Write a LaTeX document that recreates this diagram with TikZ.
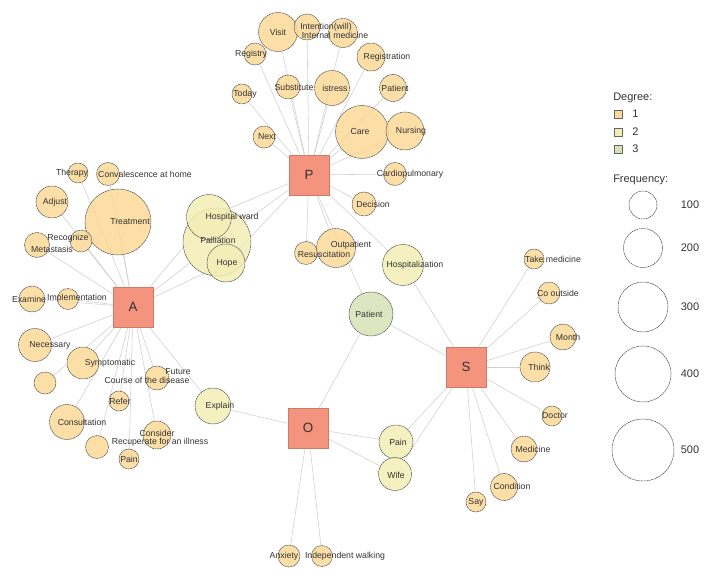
\documentclass[tikz,border=0pt]{standalone}
\usepackage{fontspec}
\setmainfont{Liberation Sans}
\usetikzlibrary{backgrounds}

\definecolor{degone}{HTML}{FBD898}
\definecolor{degtwo}{HTML}{F3EDB5}
\definecolor{degthree}{HTML}{D6E2B6}
\definecolor{boxred}{HTML}{F4937E}
\definecolor{boxline}{HTML}{C97A68}
\definecolor{edgegray}{HTML}{CFCFCF}
\definecolor{txtgray}{HTML}{333333}

\tikzset{
  bub/.style={circle,draw=black!70,line width=0.35pt,dash pattern=on 1.4pt off 0.4pt,
    inner sep=0pt,fill opacity=0.85,draw opacity=1},
  bone/.style={bub,fill=degone,minimum size=#1*0.025cm},
  btwo/.style={bub,fill=degtwo,minimum size=#1*0.025cm},
  bthree/.style={bub,fill=degthree,minimum size=#1*0.025cm},
  lab/.style={font=\fontsize{6.2}{7}\selectfont,text=txtgray,inner sep=0pt},
  hub/.style={rectangle,draw=boxline,line width=0.5pt,fill=boxred,minimum size=1cm,
    font=\fontsize{9.5}{10}\selectfont,text=txtgray},
  edge/.style={draw=edgegray,line width=0.4pt},
  legtxt/.style={font=\fontsize{7.8}{9}\selectfont,text=txtgray,inner sep=0pt},
  legbox/.style={rectangle,draw=black!60,line width=0.3pt,minimum size=8*0.025cm,inner sep=0pt},
  legring/.style={circle,draw=black!70,line width=0.35pt,dash pattern=on 1.4pt off 0.4pt,
    inner sep=0pt,minimum size=#1*0.025cm}
}

\begin{document}
\begin{tikzpicture}[x=0.025cm,y=-0.025cm]
	\useasboundingbox (0,0) rectangle (709,582);
	% hubs
	\node[hub] (P) at (309,175) {P};
	\node[hub] (A) at (133,307) {A};
	\node[hub] (O) at (308,428) {O};
	\node[hub] (S) at (466,367) {S};
	% P side
	\node[bone=39] (visit) at (278,32) {};
	\node[bone=26] (intent) at (307,27) {};
	\node[bone=29] (intmed) at (343,33) {};
	\node[bone=22] (registry) at (255,54) {};
	\node[bone=28] (registr) at (371,57) {};
	\node[bone=24] (subst) at (288,87) {};
	\node[bone=35] (istress) at (332,88) {};
	\node[bone=27] (patP) at (393,88) {};
	\node[bone=20] (today) at (242,94) {};
	\node[bone=22] (next) at (264,137) {};
	\node[bone=53] (care) at (362,132) {};
	\node[bone=38] (nursing) at (405,131) {};
	\node[bone=23] (cardio) at (395,174) {};
	\node[bone=24] (decision) at (364,204) {};
	\node[bone=23] (resus) at (306,253) {};
	\node[bone=39] (outpat) at (336,248) {};
	\node[btwo=41] (hosp) at (403,265) {};
	\node[bthree=44] (patG) at (371,314) {};
	% shared by A and P
	\node[btwo=68] (pall) at (217,242) {};
	\node[btwo=45] (ward) at (209,217) {};
	\node[btwo=38] (hope) at (226,263) {};
	% A side
	\node[bone=20] (therapy) at (78,173) {};
	\node[bone=23] (conval) at (108,174) {};
	\node[bone=32] (adjust) at (52,202) {};
	\node[bone=66] (treat) at (118,222) {};
	\node[bone=25] (metas) at (37,245) {};
	\node[bone=22] (recog) at (81,241) {};
	\node[bone=26] (examine) at (32,299) {};
	\node[bone=21] (implem) at (68,299) {};
	\node[bone=33] (necess) at (35,345) {};
	\node[bone=32] (sympt) at (83,363) {};
	\node[bone=22] (anonA) at (45,383) {};
	\node[bone=24] (future) at (157,378) {};
	\node[bone=20] (refer) at (119,401) {};
	\node[btwo=36] (explain) at (213,406) {};
	\node[bone=35] (consult) at (67,422) {};
	\node[bone=28] (consid) at (157,435) {};
	\node[bone=23] (anonB) at (97,447) {};
	\node[bone=20] (painA) at (129,459) {};
	% O side
	\node[btwo=34] (painO) at (396,442) {};
	\node[btwo=33] (wife) at (395,474) {};
	\node[bone=22] (anxiety) at (289,556) {};
	\node[bone=21] (indep) at (322,556) {};
	% S side
	\node[bone=20] (takemed) at (534,259) {};
	\node[bone=22] (coout) at (549,293) {};
	\node[bone=26] (month) at (563,337) {};
	\node[bone=30] (think) at (535,367) {};
	\node[bone=20] (doctor) at (552,416) {};
	\node[bone=26] (medic) at (524,449) {};
	\node[bone=27] (condit) at (504,487) {};
	\node[bone=20] (say) at (476,502) {};
	% words on top of all bubbles
	\foreach \n/\dx/\dy/\t in {visit/0/0/Visit, intent/19/0/Intention(will),
	  intmed/-8/2/Internal medicine, registry/-4/0/Registry, registr/16/0/Registration,
	  subst/6/0/Substitute, istress/3/0/istress, patP/2/0/Patient, today/3/0/Today,
	  next/3/0/Next, care/-2/0/Care, nursing/6/0/Nursing, cardio/15/0/Cardiopulmonary,
	  decision/9/0/Decision, resus/18/1/Resuscitation, outpat/15/-3/Outpatient,
	  hosp/12/0/Hospitalization, patG/-2/0/Patient, pall/1/-2/Palliation,
	  ward/23/0/Hospital ward, hope/1/0/Hope, therapy/-6/0/Therapy,
	  conval/37/0/Convalescence at home, adjust/3/0/Adjust, treat/12/0/Treatment,
	  metas/15/4/Metastasis, recog/-13/-3/Recognize, examine/-3/0/Examine,
	  implem/9/-1/Implementation, necess/15/0/Necessary, sympt/27/0/Symptomatic,
	  future/21/-6/Future, refer/1/0/Refer, explain/7/0/Explain,
	  consult/15/0/Consultation, consid/0/-2/Consider, painA/0/0/Pain,
	  painO/2/0/Pain, wife/1/1/Wife, anxiety/-5/0/Anxiety,
	  indep/23/0/Independent walking, takemed/19/0/Take medicine, coout/9/0/Co outside,
	  month/5/0/Month, think/4/0/Think, doctor/3/0/Doctor, medic/9/0/Medicine,
	  condit/8/-1/Condition, say/0/0/Say}
	  \node[lab] (\n-t) at ([shift={(\dx,\dy)}]\n) {\t};
	\node[lab] (course-t) at ([shift={(-10,2)}]future) {Course of the disease};
	\node[lab] (recup-t) at ([shift={(3,7)}]consid) {Recuperate for an illness};
	% connectors
	\begin{pgfonlayer}{background}
	\foreach \n in {visit,intent,intmed,registry,registr,subst,istress,patP,today,next,
	  care,nursing,cardio,decision,resus,outpat,hosp,patG,ward,pall,hope}
	  \draw[edge] (P) -- (\n);
	\foreach \n in {therapy,conval,adjust,treat,recog,metas,examine,implem,necess,sympt,
	  anonA,future,refer,explain,consult,consid,anonB,painA,ward,pall,hope}
	  \draw[edge] (A) -- (\n);
	\foreach \n in {explain,patG,painO,wife,anxiety,indep}
	  \draw[edge] (O) -- (\n);
	\foreach \n in {hosp,patG,painO,wife,takemed,coout,month,think,doctor,medic,condit,say}
	  \draw[edge] (S) -- (\n);
	\end{pgfonlayer}
	% legend
	\node[legtxt,anchor=west] (degtitle) at (613,98) {Degree:};
	\node[legbox,fill=degone] (dego) at (618,114) {};
	\node[legbox,fill=degtwo] (degt) at (618,132) {};
	\node[legbox,fill=degthree] (degh) at (618,149) {};
	\node[legtxt,anchor=west] (degol) at (632,114) {1};
	\node[legtxt,anchor=west] (degtl) at (632,132) {2};
	\node[legtxt,anchor=west] (deghl) at (632,149) {3};
	\node[legtxt,anchor=west] (freqtitle) at (613,180) {Frequency:};
	\node[legring=28] (fa) at (643,205) {};
	\node[legring=39] (fb) at (643,248) {};
	\node[legring=50] (fc) at (643,307) {};
	\node[legring=56] (fd) at (643,374) {};
	\node[legring=62] (fe) at (643,450) {};
	\node[legtxt] (fal) at (690,205) {100};
	\node[legtxt] (fbl) at (690,248) {200};
	\node[legtxt] (fcl) at (690,307) {300};
	\node[legtxt] (fdl) at (690,374) {400};
	\node[legtxt] (fel) at (690,450) {500};
\end{tikzpicture}
\end{document}
